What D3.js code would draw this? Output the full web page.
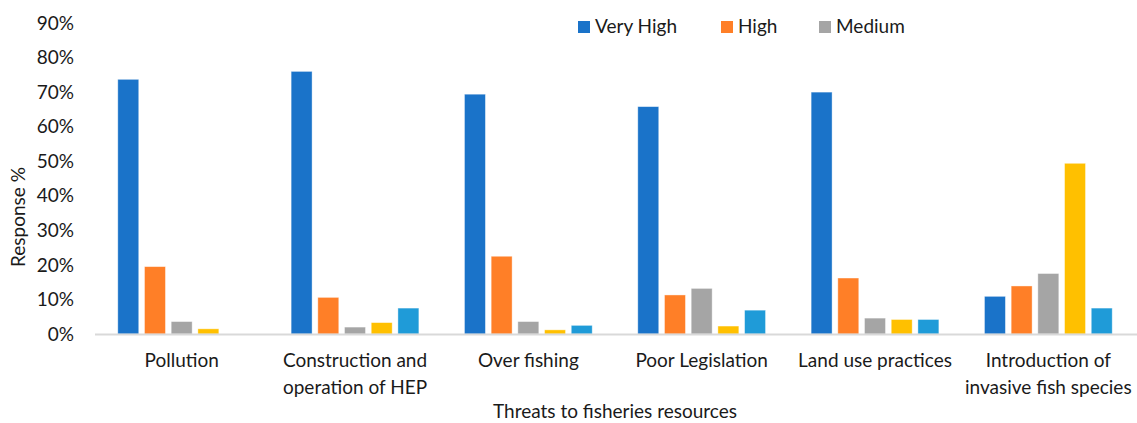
<!DOCTYPE html>
<html>
<head>
<meta charset="utf-8">
<script src="https://cdn.jsdelivr.net/npm/d3@7"></script>
<style>
  body { margin: 0; background: #fff; }
  text { font-family: Lato, "Open Sans", sans-serif; fill: #1a1a1a; }
</style>
</head>
<body>
<script>
const categories = ["Pollution", "Construction and operation of HEP", "Over fishing",
    "Poor Legislation", "Land use practices", "Introduction of invasive fish species"];
const catLines = [["Pollution"], ["Construction and", "operation of HEP"], ["Over fishing"],
    ["Poor Legislation"], ["Land use practices"], ["Introduction of", "invasive fish species"]];
const seriesNames = ["Very High", "High", "Medium", "Low", "Very Low"];
const legendNames = ["Very High", "High", "Medium"];
const veryHigh = [73.7, 76.0, 69.4, 65.8, 70.0, 10.9];
const high = [19.5, 10.6, 22.5, 11.3, 16.2, 13.9];
const medium = [3.6, 2.0, 3.6, 13.2, 4.6, 17.5];
const low = [1.5, 3.3, 1.2, 2.3, 4.2, 49.4];
const veryLow = [0, 7.5, 2.5, 6.9, 4.2, 7.5];
const yTicks = [0, 10, 20, 30, 40, 50, 60, 70, 80, 90];
const colors = ["#1a73c9", "#ff7f27", "#a5a5a5", "#ffc000", "#1f9bd8"];

const allSeries = [veryHigh, high, medium, low, veryLow];
const width = 1137, height = 423;
const margin = {left: 95, right: 2, top: 23, bottom: 89};

const svg = d3.select("body").append("svg")
    .attr("width", width)
    .attr("height", height);

const x0 = d3.scaleBand()
    .domain(categories)
    .range([margin.left, width - margin.right])
    .paddingInner(0.263)
    .paddingOuter(0.1315);

const x1 = d3.scaleBand()
    .domain(seriesNames)
    .range([0, x0.bandwidth()])
    .paddingInner(0.215);

const y = d3.scaleLinear()
    .domain([0, 90])
    .range([height - margin.bottom, margin.top]);

const color = d3.scaleOrdinal().domain(seriesNames).range(colors);

// y tick labels
svg.append("g")
    .selectAll("text")
    .data(yTicks)
    .enter()
    .append("text")
    .attr("x", 74)
    .attr("y", d => y(d))
    .attr("dy", "0.35em")
    .attr("text-anchor", "end")
    .attr("font-size", 19)
    .text(d => d + "%");

// bars
const rows = categories.map((c, i) => ({cat: c, vals: seriesNames.map((s, j) => ({s: s, v: allSeries[j][i]}))}));

svg.append("g")
    .selectAll("g")
    .data(rows)
    .enter()
    .append("g")
    .attr("transform", d => "translate(" + x0(d.cat) + ",0)")
    .selectAll("rect")
    .data(d => d.vals.filter(e => e.v > 0))
    .enter()
    .append("rect")
    .attr("x", d => x1(d.s))
    .attr("y", d => y(d.v))
    .attr("width", x1.bandwidth())
    .attr("height", d => y(0) - y(d.v))
    .attr("fill", d => color(d.s))
    .attr("stroke", "#ffffff")
    .attr("stroke-opacity", 0.5)
    .attr("stroke-width", 0.8);

// x axis line
svg.append("line")
    .attr("x1", margin.left)
    .attr("x2", width)
    .attr("y1", y(0) + 0.5)
    .attr("y2", y(0) + 0.5)
    .attr("stroke", "#d9d9d9")
    .attr("stroke-width", 2);

// category labels
svg.append("g")
    .selectAll("text")
    .data(categories)
    .enter()
    .append("text")
    .attr("x", d => x0(d) + x0.bandwidth() / 2)
    .attr("y", 367)
    .attr("text-anchor", "middle")
    .attr("font-size", 19)
    .selectAll("tspan")
    .data((d, i) => catLines[i])
    .enter()
    .append("tspan")
    .attr("x", function () { return d3.select(this.parentNode).attr("x"); })
    .attr("dy", (d, i) => i === 0 ? 0 : 26.5)
    .text(d => d);

// axis titles
svg.append("text")
    .attr("x", 615)
    .attr("y", 418)
    .attr("text-anchor", "middle")
    .attr("font-size", 19)
    .text("Threats to fisheries resources");

svg.append("text")
    .attr("transform", "translate(25,217) rotate(-90)")
    .attr("text-anchor", "middle")
    .attr("font-size", 19)
    .text("Response %");

// legend
const legendX = [578, 721, 819];
const leg = svg.append("g")
    .selectAll("g")
    .data(legendNames)
    .enter()
    .append("g")
    .attr("transform", (d, i) => "translate(" + legendX[i] + ",21)");

leg.append("rect")
    .attr("width", 12)
    .attr("height", 12)
    .attr("fill", d => color(d));

leg.append("text")
    .attr("x", 17)
    .attr("y", 12)
    .attr("font-size", 19)
    .text(d => d);
</script>
</body>
</html>
